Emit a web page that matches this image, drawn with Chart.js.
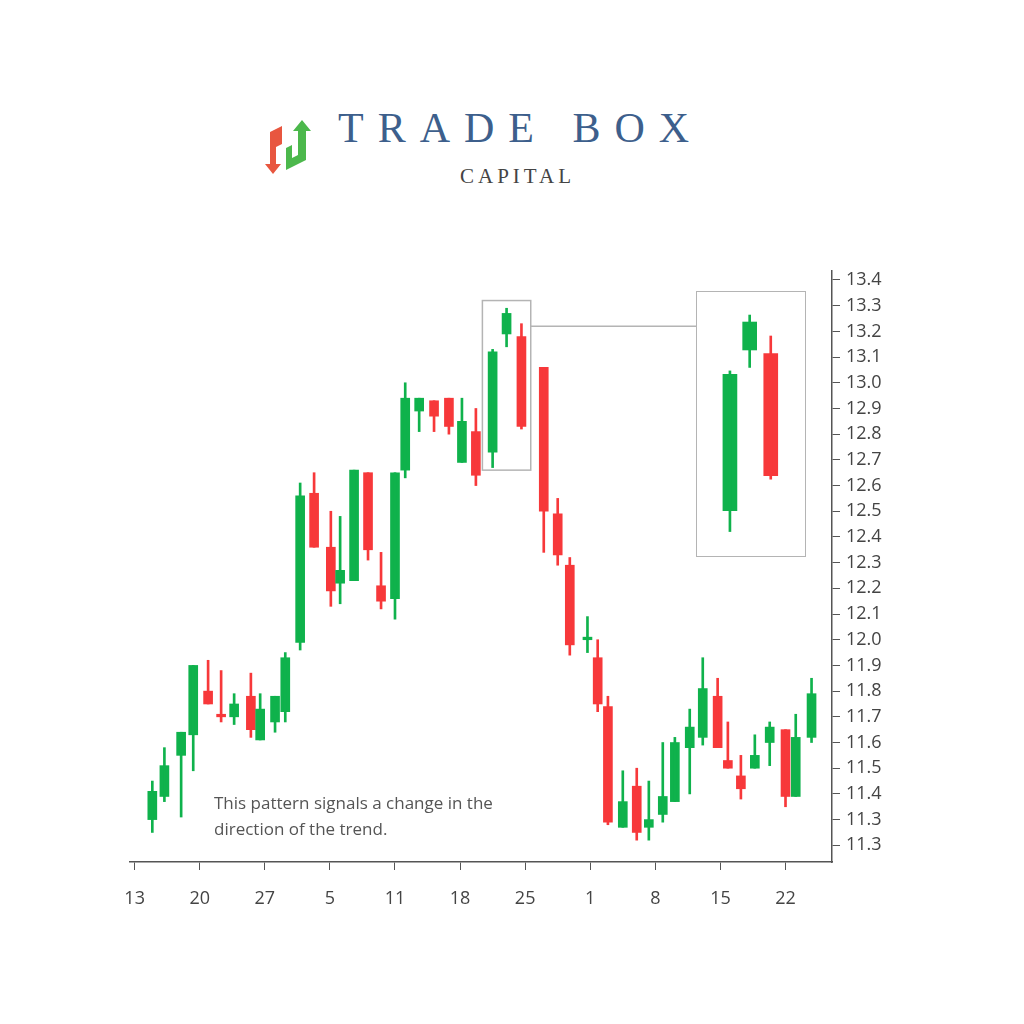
<!DOCTYPE html>
<html>
<head>
<meta charset="utf-8">
<script src="https://cdn.jsdelivr.net/npm/chart.js@4.4.1/dist/chart.umd.min.js"></script>
<style>
  body { margin: 0; background: #fff; }
  #wrap { position: relative; width: 1024px; height: 1024px; overflow: hidden; }
  #main { position: absolute; left: 0; top: 0; }
  #insetBox { position: absolute; left: 696px; top: 291px; width: 108px; height: 264px; border: 1.5px solid #b4b4b4; }
  .title { position: absolute; font-family: "Liberation Serif", "DejaVu Serif", serif; }
  .note { position: absolute; left: 214px; top: 790px; font-family: "Open Sans", sans-serif; font-size: 17px; line-height: 26px; color: #555; }
</style>
</head>
<body>
<div id="wrap">
  <svg style="position:absolute;left:262px;top:118px" width="56" height="60" viewBox="0 0 56 60">
    <path d="M8 14 L20 8 L20 26 L14 29 L14 46 L19 46 L11 56 L3 46 L8 46 Z" fill="#e8563f"/>
    <path d="M40 2 L49 13 L44 13 L44 42 L24 52 L24 30 L30 27 L30 40 L36 37 L36 13 L31 13 Z" fill="#4cb84c"/>
  </svg>
  <div class="title" style="left:338px;top:104px;font-size:42px;letter-spacing:14px;color:#3d5f8c;">TRADE BOX</div>
  <div class="title" style="left:460px;top:164px;font-size:21px;letter-spacing:4px;color:#444;">CAPITAL</div>
  <canvas id="main" width="1024" height="1024"></canvas>
  <div id="insetBox"><canvas id="inset" width="108" height="264"></canvas></div>
  <div class="note">This pattern signals a change in the<br>direction of the trend.</div>
</div>
<script>
// candle x positions in days from the first tick
const days  = [1.9, 3.2, 5.0, 6.3, 7.9, 9.3, 10.7, 12.5, 13.5, 15.1, 16.2, 17.8, 19.3, 21.1, 22.1, 23.6, 25.1, 26.5, 28.0, 29.1, 30.6, 32.2, 33.8, 35.2, 36.7, 38.5, 40.0, 41.6, 44.0, 45.5, 46.8, 48.7, 49.8, 50.9, 52.5, 54.0, 55.3, 56.8, 58.1, 59.7, 61.1, 62.7, 63.8, 65.2, 66.7, 68.3, 70.0, 71.1, 72.8];
const opens = [11.30, 11.39, 11.55, 11.63, 11.80, 11.71, 11.70, 11.78, 11.61, 11.68, 11.72, 11.99, 12.57, 12.36, 12.22, 12.23, 12.65, 12.21, 12.16, 12.66, 12.89, 12.93, 12.94, 12.69, 12.81, 12.73, 13.19, 13.18, 13.06, 12.49, 12.29, 12.00, 11.93, 11.74, 11.27, 11.43, 11.27, 11.32, 11.37, 11.58, 11.62, 11.78, 11.53, 11.47, 11.50, 11.60, 11.65, 11.39, 11.62];
const closes= [11.41, 11.51, 11.64, 11.90, 11.75, 11.70, 11.75, 11.65, 11.73, 11.78, 11.93, 12.56, 12.36, 12.19, 12.27, 12.66, 12.35, 12.15, 12.65, 12.94, 12.94, 12.87, 12.83, 12.85, 12.64, 13.12, 13.27, 12.83, 12.50, 12.33, 11.98, 12.01, 11.75, 11.29, 11.37, 11.25, 11.30, 11.39, 11.60, 11.66, 11.81, 11.58, 11.50, 11.42, 11.55, 11.66, 11.39, 11.62, 11.79];
const highs = [11.45, 11.58, 11.64, 11.90, 11.92, 11.88, 11.79, 11.87, 11.79, 11.78, 11.95, 12.61, 12.65, 12.50, 12.48, 12.66, 12.65, 12.34, 12.65, 13.00, 12.94, 12.93, 12.94, 12.94, 12.90, 13.13, 13.29, 13.23, 13.06, 12.55, 12.32, 12.09, 12.00, 11.78, 11.49, 11.50, 11.45, 11.60, 11.62, 11.73, 11.93, 11.85, 11.68, 11.55, 11.63, 11.68, 11.65, 11.71, 11.85];
const lows  = [11.25, 11.37, 11.31, 11.49, 11.75, 11.68, 11.67, 11.62, 11.61, 11.64, 11.68, 11.96, 12.36, 12.13, 12.14, 12.23, 12.31, 12.12, 12.08, 12.63, 12.81, 12.81, 12.80, 12.69, 12.60, 12.67, 13.14, 12.82, 12.34, 12.29, 11.94, 11.95, 11.72, 11.28, 11.27, 11.22, 11.22, 11.29, 11.37, 11.40, 11.59, 11.58, 11.50, 11.38, 11.50, 11.51, 11.35, 11.39, 11.60];

const xTickLabels = ["13", "20", "27", "5", "11", "18", "25", "1", "8", "15", "22"];
const yTickValues = [11.2, 11.3, 11.4, 11.5, 11.6, 11.7, 11.8, 11.9, 12.0, 12.1, 12.2, 12.3, 12.4, 12.5, 12.6, 12.7, 12.8, 12.9, 13.0, 13.1, 13.2, 13.3, 13.4];
const yTickLabels = ["11.3", "11.3", "11.4", "11.5", "11.6", "11.7", "11.8", "11.9", "12.0", "12.1", "12.2", "12.3", "12.4", "12.5", "12.6", "12.7", "12.8", "12.9", "13.0", "13.1", "13.2", "13.3", "13.4"];
const insetIdx = [25, 26, 27];

const GREEN = "#0fb24c", RED = "#f7383a";
const colorOf = i => closes[i] >= opens[i] ? GREEN : RED;

function candleSets(idx, bodyW, wickW) {
  return [
    { data: idx.map(i => ({ x: days[i], y: [lows[i], highs[i]] })), backgroundColor: idx.map(colorOf), barThickness: wickW, grouped: false },
    { data: idx.map(i => ({ x: days[i], y: [opens[i], closes[i]] })), backgroundColor: idx.map(colorOf), barThickness: bodyW, grouped: false }
  ];
}

const allIdx = days.map((d, i) => i);
const font = { family: "'Open Sans', sans-serif", size: 18 };

// highlight box + line to the inset
const highlight = {
  id: "highlight",
  afterDatasetsDraw(chart) {
    const { ctx, scales: { x, y } } = chart;
    const l = x.getPixelForValue(37.4), r = x.getPixelForValue(42.6);
    const t = y.getPixelForValue(13.32), b = y.getPixelForValue(12.66);
    ctx.save();
    ctx.strokeStyle = "#b4b4b4";
    ctx.lineWidth = 1.5;
    ctx.strokeRect(l, t, r - l, b - t);
    ctx.beginPath();
    const ly = y.getPixelForValue(13.22);
    ctx.moveTo(r, ly);
    ctx.lineTo(696, ly);
    ctx.stroke();
    ctx.restore();
  }
};

new Chart(document.getElementById("main"), {
  type: "bar",
  data: { datasets: candleSets(allIdx, 9, 2) },
  options: {
    responsive: false,
    animation: false,
    layout: { padding: { left: 130, top: 271, right: 100, bottom: 112 } },
    plugins: { legend: { display: false }, tooltip: { enabled: false } },
    scales: {
      x: {
        type: "linear", min: -0.5, max: 75, offset: false,
        afterBuildTicks: s => { s.ticks = xTickLabels.map((t, i) => ({ value: i * 7 })); },
        afterFit: s => { s.height = 50; },
        ticks: { color: "#444", font, padding: 18, callback: (v, i) => xTickLabels[i] },
        grid: { offset: false, drawOnChartArea: false, drawTicks: true, tickLength: 8, color: "#555" },
        border: { color: "#555", width: 1.5 }
      },
      y: {
        position: "right", min: 11.135, max: 13.435,
        afterBuildTicks: s => { s.ticks = yTickValues.map(v => ({ value: v })); },
        afterFit: s => { s.width = 92; },
        ticks: { color: "#444", font, padding: 6, callback: (v, i) => yTickLabels[i] },
        grid: { drawOnChartArea: false, drawTicks: true, tickLength: 8, color: "#555" },
        border: { color: "#555", width: 1.5 }
      }
    }
  },
  plugins: [highlight]
});

new Chart(document.getElementById("inset"), {
  type: "bar",
  data: { datasets: candleSets(insetIdx, 14, 2) },
  options: {
    responsive: false,
    animation: false,
    plugins: { legend: { display: false }, tooltip: { enabled: false } },
    scales: {
      x: { type: "linear", min: 36.0, max: 44.2, offset: false, display: false },
      y: { min: 12.60, max: 13.356, display: false }
    }
  }
});
</script>
</body>
</html>
